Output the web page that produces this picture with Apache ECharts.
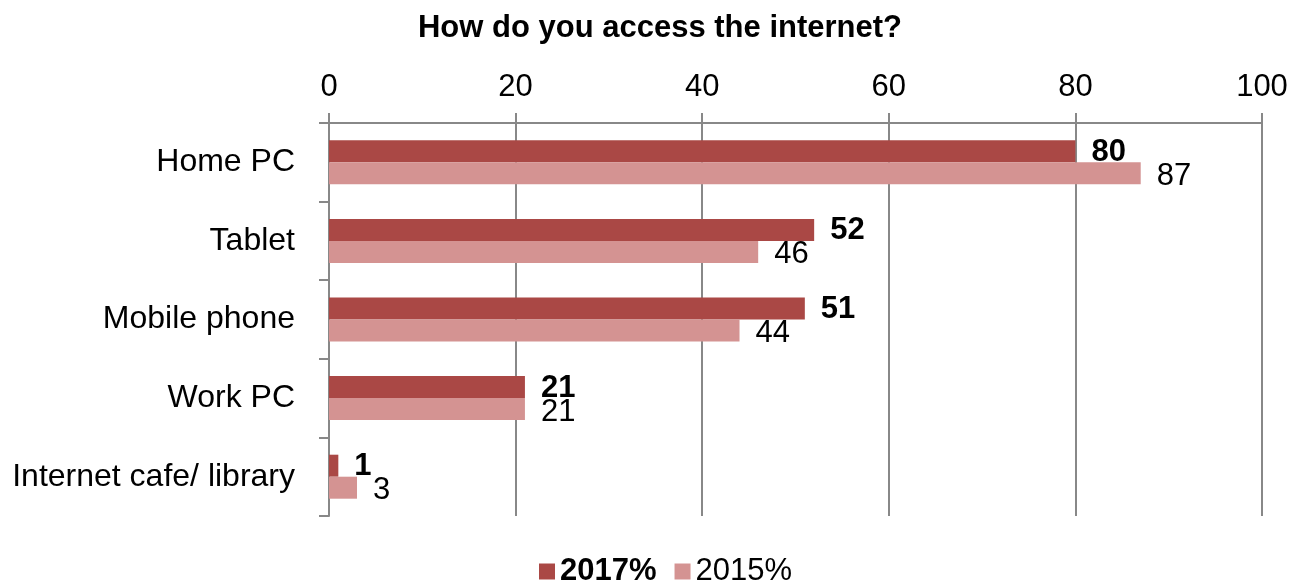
<!DOCTYPE html>
<html><head><meta charset="utf-8">
<script src="https://cdn.jsdelivr.net/npm/echarts@6/dist/echarts.min.js"></script>
<style>html,body{margin:0;padding:0;background:#fff}#c{width:1293px;height:580px}</style>
</head><body><div id="c"></div>
<script>
const categories = ["Home PC", "Tablet", "Mobile phone", "Work PC", "Internet cafe/ library"];
const values2017 = [80, 52, 51, 21, 1];
const values2015 = [87, 46, 44, 21, 3];
const xTicks = [0, 20, 40, 60, 80, 100];
const seriesNames = ["2017%", "2015%"];

const F = "Liberation Sans, Arial, sans-serif";
const chart = echarts.init(document.getElementById('c'));
chart.setOption({
  animation: false,
  title: {
    text: "How do you access the internet?",
    left: 655, top: 8, textAlign: 'center',
    textStyle: {fontFamily: F, fontSize: 31, fontWeight: 'bold', color: '#000'}
  },
  legend: {
    bottom: -12, left: 534, itemWidth: 16, itemHeight: 16, itemGap: 18,
    icon: 'rect',
    data: seriesNames,
    formatter: function(n){ return n === seriesNames[0] ? '{b|' + n + '}' : '{n|' + n + '}'; },
    textStyle: {fontFamily: F, fontSize: 31, color: '#000',
      rich: {b: {fontFamily: F, fontSize: 31, fontWeight: 'bold', color: '#000'},
             n: {fontFamily: F, fontSize: 31, color: '#000'}}}
  },
  grid: {left: 329, right: 31, top: 123, bottom: 64},
  xAxis: {
    type: 'value', position: 'top', min: 0, max: 100, interval: 20,
    axisLine: {show: true, lineStyle: {color: '#888', width: 2}},
    axisTick: {show: true, length: 10, lineStyle: {color: '#888', width: 2}},
    axisLabel: {fontFamily: F, fontSize: 31, color: '#000', margin: 20},
    splitLine: {show: true, lineStyle: {color: '#888', width: 2}}
  },
  yAxis: {
    type: 'category', data: categories, inverse: true,
    axisLine: {show: true, lineStyle: {color: '#888', width: 2}},
    axisTick: {show: true, length: 10, lineStyle: {color: '#888', width: 2}},
    axisLabel: {fontFamily: F, fontSize: 32, color: '#000', margin: 34}
  },
  series: [
    {name: seriesNames[0], type: 'bar', data: values2017, barWidth: 22, barGap: '0%',
     itemStyle: {color: '#AA4845'},
     label: {show: true, position: 'right', distance: 16, offset: [0, 1],
       fontFamily: F, fontSize: 31, fontWeight: 'bold', color: '#000'}},
    {name: seriesNames[1], type: 'bar', data: values2015, barWidth: 22, barGap: '0%',
     itemStyle: {color: '#D49392'},
     label: {show: true, position: 'right', distance: 16, offset: [0, 3],
       fontFamily: F, fontSize: 31, color: '#000'}}
  ]
});
</script></body></html>
